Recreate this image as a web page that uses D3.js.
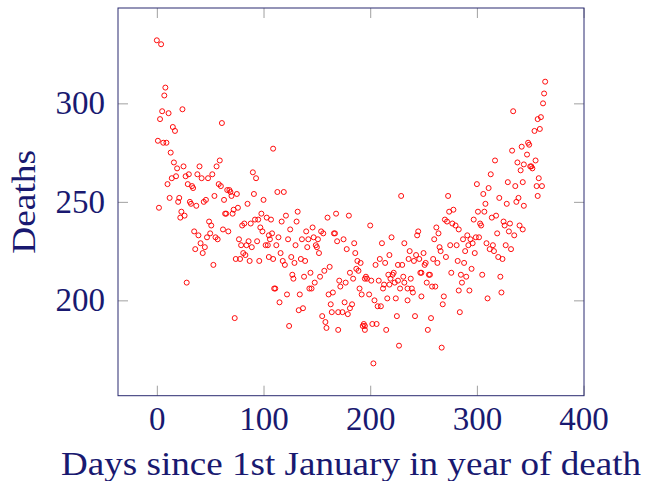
<!DOCTYPE html>
<html>
<head>
<meta charset="utf-8">
<script src="https://cdn.jsdelivr.net/npm/d3@7"></script>
<style>
  html, body { margin: 0; padding: 0; background: #fff; }
  svg { display: block; }
</style>
</head>
<body>
<svg id="chart" width="645" height="481"></svg>
<script>
// ---- data ----
const days = [
  0,4,8,7,5,11,24,3,15,17,1,6,9,13,16,19,25,40,14,18,27,30,38,42,48,10,29,33,34,12,21,20,31,32,37,44,46,2,23,26,22,49,35,39,47,50,41,45,36,43,28,
  61,109,59,56,52,90,93,58,60,66,68,69,75,70,63,54,91,100,85,76,72,71,65,64,98,103,107,95,92,88,82,80,51,97,99,62,67,55,57,108,105,106,102,104,77,86,94,79,84,89,81,83,74,78,87,96,105,109,53,110,73,
  113,119,132,121,117,131,168,160,125,140,146,154,156,166,167,114,123,136,142,147,151,169,112,130,141,149,150,116,152,126,135,139,118,120,129,162,157,153,144,138,127,128,148,143,145,171,172,111,122,134,165,161,115,163,137,133,164,170,155,158,159,124,170,
  229,180,200,175,185,211,220,232,178,186,218,209,188,191,214,205,226,230,187,189,181,222,217,221,231,184,196,197,195,201,208,219,223,226,177,213,212,218,228,190,192,199,216,224,204,176,183,181,207,210,174,179,225,194,193,195,202,206,195,215,227,203,
  232,273,274,278,270,272,277,280,283,245,244,262,264,260,291,287,292,275,281,265,266,237,250,243,246,236,241,289,271,259,282,288,252,251,263,247,248,255,256,276,238,285,290,253,286,258,261,235,239,240,283,293,248,269,235,268,284,242,257,254,267,
  334,342,333,317,338,341,344,313,300,329,336,343,311,306,321,339,337,344,328,308,301,307,318,314,297,303,304,325,326,331,340,343,330,335,319,299,302,294,296,309,315,312,316,327,332,298,320,324,295,305,322,323,310,
  364,363,362,360,357,359,354,348,349,347,355,350,352,351,358,356,361,357
];
const deaths = [
  332,330,308,304,296,295,297,292,288,286,281,280,280,275,270,267,268,268,262,263,263,264,264,262,262,259,259,258,257,252,252,250,250,249,248,250,251,247,245,243,242,240,235,233,232,234,229,227,226,224,209,
  290,277,271,268,264,265,262,259,258,256,256,255,254,253,251,253,254,251,249,247,246,244,244,244,244,242,241,241,241,239,239,238,238,237,235,236,235,232,231,234,233,231,228,228,231,230,230,228,228,227,224,223,221,221,220,220,222,221,218,206,191,
  255,255,245,243,240,240,244,242,236,235,237,235,234,234,234,232,231,231,231,232,231,230,228,228,227,228,227,224,224,222,221,220,220,218,219,217,215,212,214,212,213,211,209,206,206,210,207,206,203,203,204,203,199,198,196,195,194,194,192,189,186,187,185,
  253,243,238,231,229,229,232,229,226,224,223,221,220,219,219,218,218,218,216,215,214,214,213,213,212,211,212,211,211,210,210,211,209,210,209,208,206,208,206,206,203,203,201,201,200,199,198,196,197,197,194,193,192,188,187,187,188,188,185,185,177,168,
  209,253,245,246,241,240,239,238,236,235,233,237,234,231,233,231,228,228,228,227,225,225,224,223,221,221,220,225,222,221,220,219,219,218,219,214,214,213,213,214,211,213,212,209,209,207,207,206,206,204,205,205,202,202,200,198,194,192,191,185,176,
  296,278,276,271,270,266,269,264,259,260,258,260,257,254,252,252,250,248,249,249,245,245,243,242,241,239,238,240,238,239,238,236,235,233,234,232,232,231,229,229,228,226,225,228,226,224,222,221,216,213,212,204,201,
  311,305,300,293,292,287,286,280,279,274,271,268,267,268,262,258,258,253
];
const xTicks = [0, 100, 200, 300, 400];
const yTicks = [200, 250, 300];
const xLabel = "Days since 1st January in year of death";
const yLabel = "Deaths";

// ---- layout / style ----
const W = 645, H = 481;
const plot = { left: 118, right: 584, top: 8, bottom: 395.7 };
const ink = "#191970";
const font = "'Liberation Serif', 'Times New Roman', serif";
const fs = 33;

const pts = days.map((d, i) => ({ day: d, value: deaths[i] }));

function enlarged(ext) {
  const pad = 0.1 * (ext[1] - ext[0]);
  return [ext[0] - pad, ext[1] + pad];
}
const x = d3.scaleLinear().domain(enlarged(d3.extent(days))).range([plot.left, plot.right]);
const y = d3.scaleLinear().domain(enlarged(d3.extent(deaths))).range([plot.bottom, plot.top]);

const svg = d3.select("#chart");
svg.append("rect").attr("width", W).attr("height", H).attr("fill", "#fff");

// ticks (inward, on all four sides)
function styleAxis(g) {
  g.select(".domain").remove();
  g.selectAll(".tick line").attr("stroke", "#a0a0a0").attr("stroke-width", 1);
  g.selectAll(".tick text")
    .attr("fill", ink)
    .attr("font-family", font)
    .attr("font-size", fs);
}
svg.append("g").attr("transform", `translate(0,${plot.bottom})`)
  .call(d3.axisBottom(x).tickValues(xTicks).tickSizeInner(-10).tickSizeOuter(0).tickPadding(11).tickFormat(d3.format("d")))
  .call(styleAxis);
svg.append("g").attr("transform", `translate(0,${plot.top})`)
  .call(d3.axisTop(x).tickValues(xTicks).tickSizeInner(-10).tickSizeOuter(0).tickFormat(""))
  .call(styleAxis);
svg.append("g").attr("transform", `translate(${plot.left},0)`)
  .call(d3.axisLeft(y).tickValues(yTicks).tickSizeInner(-10).tickSizeOuter(0).tickPadding(13).tickFormat(d3.format("d")))
  .call(styleAxis);
svg.append("g").attr("transform", `translate(${plot.right},0)`)
  .call(d3.axisRight(y).tickValues(yTicks).tickSizeInner(-10).tickSizeOuter(0).tickFormat(""))
  .call(styleAxis);

// frame
svg.append("rect")
  .attr("x", plot.left).attr("y", plot.top)
  .attr("width", plot.right - plot.left).attr("height", plot.bottom - plot.top)
  .attr("fill", "none").attr("stroke", "#2a2a70").attr("stroke-width", 1);

// points
svg.append("g").selectAll("circle").data(pts).join("circle")
  .attr("cx", d => x(d.day))
  .attr("cy", d => y(d.value))
  .attr("r", 2.5)
  .attr("fill", "none")
  .attr("stroke", "#ff0000")
  .attr("stroke-width", 0.95);

// axis labels
svg.append("text")
  .attr("x", (plot.left + plot.right) / 2)
  .attr("y", 475)
  .attr("text-anchor", "middle")
  .attr("fill", ink)
  .attr("font-family", font)
  .attr("font-size", fs)
  .attr("textLength", 580)
  .attr("lengthAdjust", "spacingAndGlyphs")
  .text(xLabel);

svg.append("text")
  .attr("transform", `translate(35,${(plot.top + plot.bottom) / 2}) rotate(-90)`)
  .attr("text-anchor", "middle")
  .attr("fill", ink)
  .attr("font-family", font)
  .attr("font-size", fs)
  .attr("textLength", 104)
  .attr("lengthAdjust", "spacingAndGlyphs")
  .text(yLabel);
</script>
</body>
</html>
